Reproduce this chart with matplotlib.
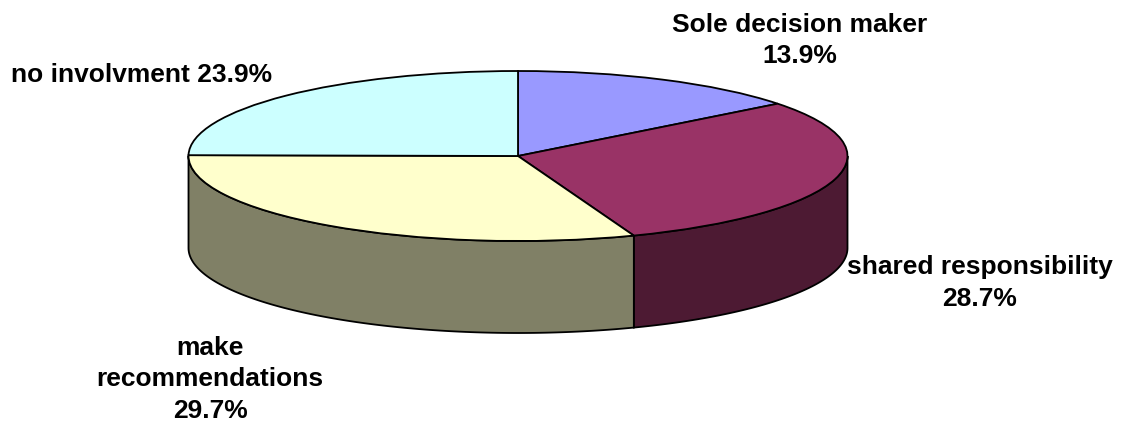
import numpy as np
import matplotlib
matplotlib.use("Agg")
import matplotlib.pyplot as plt

categories = ["Sole decision maker", "shared responsibility", "make recommendations", "no involvment"]
shares = [13.9, 28.7, 29.7, 23.9]
top_colors = ["#9999FF", "#993366", "#FFFFCC", "#CCFFFF"]
side_colors = ["#4D4D80", "#4D1A33", "#808066", "#668080"]
label_texts = ["Sole decision maker\n13.9%", "shared responsibility\n28.7%",
               "make\nrecommendations\n29.7%", "no involvment 23.9%"]
label_pos = [(800, 40.5), (980, 283), (210, 379.5), (141.5, 75)]

W, H = 1131, 425
CX, CY, RX, RY, DEPTH = 518, 156, 329.5, 85, 92

fig = plt.figure(figsize=(W / 100, H / 100), dpi=100, facecolor="white")
ax = fig.add_axes([0, 0, 1, 1])

wedges, _ = ax.pie(shares, colors=top_colors, startangle=90, counterclock=False,
                   wedgeprops=dict(edgecolor="black", linewidth=1.3), frame=False)
for w in wedges:
    w.set_zorder(3)
ax.set_aspect("auto")
ax.set_xlim(-CX / RX, (W - CX) / RX)
ax.set_ylim(-(H - CY) / RY, CY / RY)
ax.axis("off")

depth = DEPTH / RY
fracs = np.array(shares) / np.sum(shares)
edges = np.concatenate([[0], np.cumsum(fracs)]) * 360
for i in range(len(shares)):
    a0, a1 = max(edges[i], 90), min(edges[i + 1], 270)
    if a1 <= a0:
        continue
    t = np.radians(np.linspace(a0, a1, 120))
    x, y = np.sin(t), np.cos(t)
    ax.fill(np.r_[x, x[::-1]], np.r_[y, y[::-1] - depth], facecolor=side_colors[i],
            edgecolor="black", linewidth=1.3, zorder=2)

for s, (px, py) in zip(label_texts, label_pos):
    fig.text(px / W, 1 - py / H, s, ha="center", va="center", family="Liberation Sans",
             weight="bold", fontsize=19, linespacing=1.42, color="black")

fig.savefig("out.png", dpi=100)
